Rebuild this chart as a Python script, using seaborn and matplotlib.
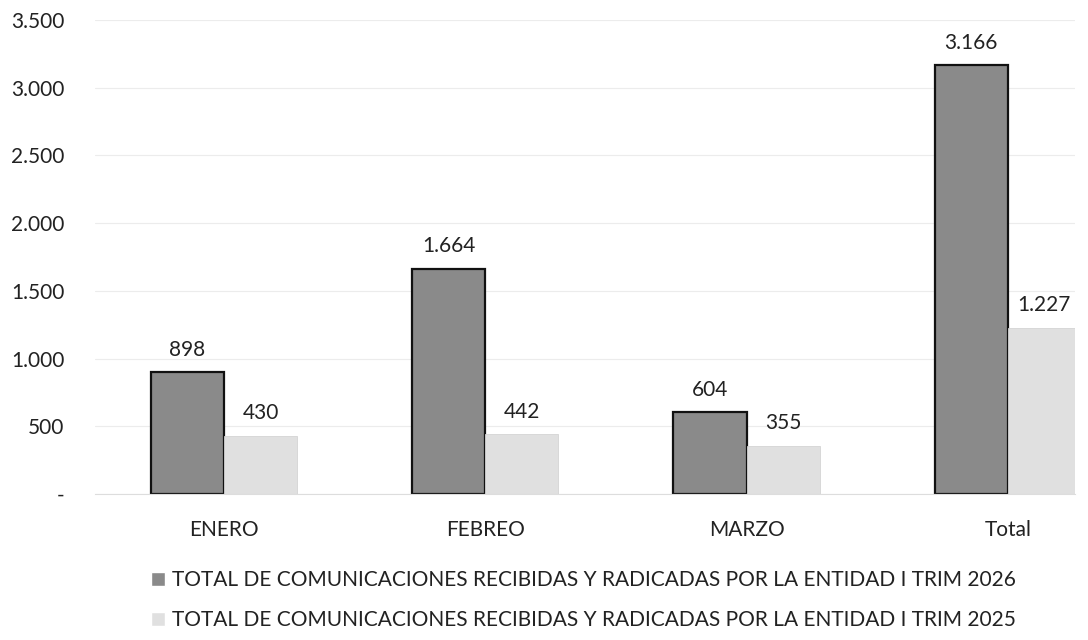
import matplotlib
matplotlib.use("Agg")
import matplotlib.pyplot as plt
import matplotlib.ticker as mticker
import seaborn as sns
import pandas as pd

categories = ["ENERO", "FEBREO", "MARZO", "Total"]
series_2026 = [898, 1664, 604, 3166]
series_2025 = [430, 442, 355, 1227]
label_2026 = "TOTAL DE COMUNICACIONES RECIBIDAS Y RADICADAS POR LA ENTIDAD I TRIM 2026"
label_2025 = "TOTAL DE COMUNICACIONES RECIBIDAS Y RADICADAS POR LA ENTIDAD I TRIM 2025"
y_ticks = [0, 500, 1000, 1500, 2000, 2500, 3000, 3500]

df = pd.DataFrame({
    "mes": categories * 2,
    "valor": series_2026 + series_2025,
    "serie": [label_2026] * len(categories) + [label_2025] * len(categories),
})

sns.set_theme(style="white")
plt.rcParams["font.family"] = ["Lato", "DejaVu Sans"]

fig = plt.figure(figsize=(10.88, 6.4), dpi=100)
ax = fig.add_axes([95 / 1088, 1 - 494 / 640, (1075 - 95) / 1088, (494 - 20) / 640])

sns.barplot(data=df, x="mes", y="valor", hue="serie", order=categories,
            hue_order=[label_2026, label_2025],
            palette=["#8a8a8a", "#e0e0e0"], width=0.56, gap=0, ax=ax,
            legend=True)

# edge styles
for i, cont in enumerate(ax.containers):
    for p in cont:
        if i == 0:
            p.set_edgecolor("#111111")
            p.set_linewidth(1.6)
        else:
            p.set_edgecolor("#d4d4d4")
            p.set_linewidth(0.6)

fmt = lambda v: f"{int(round(v)):,}".replace(",", ".")
for cont in ax.containers:
    ax.bar_label(cont, labels=[fmt(p.get_height()) for p in cont], padding=9,
                 fontsize=15, color="#222222")

ax.set_ylim(0, 3500)
ax.set_xlim(-0.494, 3.257)
ax.set_yticks(y_ticks)
ax.yaxis.set_major_formatter(mticker.FuncFormatter(lambda v, p: "-" if v == 0 else fmt(v)))
ax.tick_params(axis="y", length=0, pad=22, labelsize=15, labelcolor="#222222")
ax.tick_params(axis="x", length=0, pad=19, labelsize=15, labelcolor="#222222")
ax.set_xlabel("")
ax.set_ylabel("")
ax.grid(axis="y", color="#ececec", linewidth=0.8)
ax.set_axisbelow(True)
for s in ["top", "right", "left"]:
    ax.spines[s].set_visible(False)
ax.spines["bottom"].set_color("#dddddd")
ax.spines["bottom"].set_linewidth(0.8)

handles, labels = ax.get_legend_handles_labels()
ax.get_legend().remove()
fig.legend(handles, labels, loc="center", bbox_to_anchor=(0.536, 0.062), ncol=1,
           frameon=False, fontsize=15, handlelength=0.7, handleheight=0.7,
           handletextpad=0.3, labelspacing=0.95, labelcolor="#222222")

fig.savefig("out.png", dpi=100)
